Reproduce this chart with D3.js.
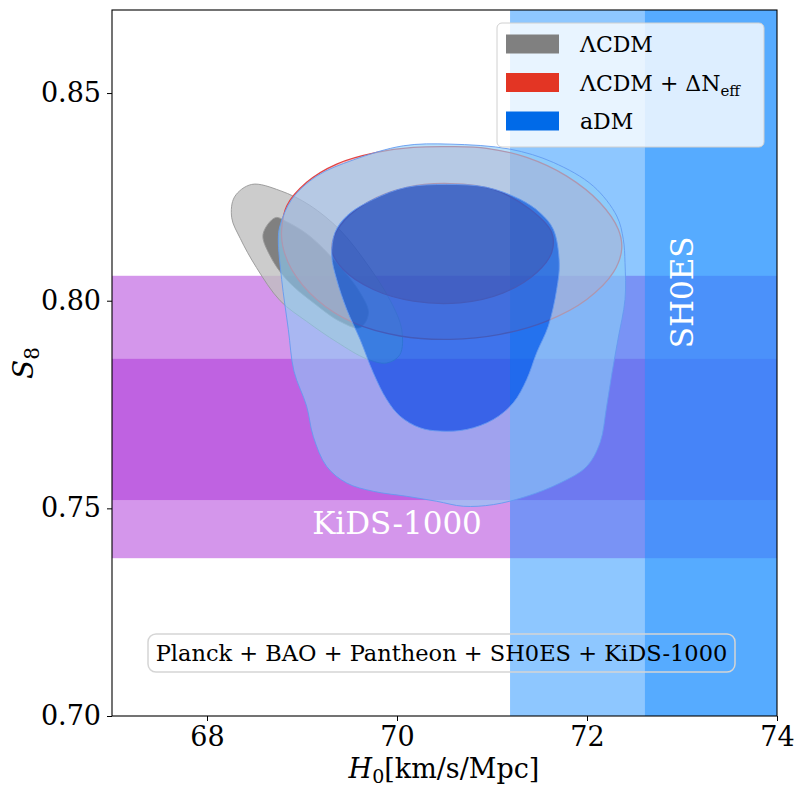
<!DOCTYPE html>
<html>
<head>
<meta charset="utf-8">
<script src="https://cdn.jsdelivr.net/npm/d3@7"></script>
<style>
  body { margin: 0; background: #fff; }
  svg { display: block; font-family: "DejaVu Serif", serif; }
</style>
</head>
<body>
<div id="chart-container"></div>
<script>
// axis ticks
const h0Ticks = [68, 70, 72, 74];
const h0Minor = [67.5, 68.5, 69, 69.5, 70.5, 71, 71.5, 72.5, 73, 73.5];
const s8Ticks = [0.7, 0.75, 0.8, 0.85];
const s8Minor = [0.725, 0.775, 0.825];

// SH0ES H0 = 74.03 +- 1.42, KiDS-1000 S8 = 0.766 +0.020 -0.014
const sh0es = { mean: 74.03, sigma: 1.42 };
const kidsBands = [[0.738, 0.806], [0.752, 0.786]];

// contour outlines, [H0, S8]
const lcdmOuter = [[68.47, 0.828], [68.29, 0.825], [68.26, 0.82], [68.35, 0.815], [68.52, 0.808],
  [68.77, 0.8], [69.05, 0.795], [69.37, 0.79], [69.68, 0.786], [69.89, 0.785], [70.03, 0.787],
  [70.05, 0.793], [69.93, 0.8], [69.68, 0.809], [69.4, 0.817], [69.08, 0.823], [68.77, 0.8265]];
const lcdmInner = [[68.72, 0.82], [68.59, 0.816], [68.66, 0.811], [68.84, 0.805], [69.12, 0.7995],
  [69.4, 0.795], [69.61, 0.7935], [69.7, 0.797], [69.61, 0.802], [69.37, 0.809], [69.08, 0.8156],
  [68.84, 0.819]];
const neffOuter = [[68.786, 0.8172], [68.839, 0.8228], [69.049, 0.8285], [69.365, 0.8329],
  [69.786, 0.8357], [70.172, 0.8369], [70.558, 0.8371], [70.944, 0.8367], [71.365, 0.8345],
  [71.786, 0.83], [72.137, 0.8236], [72.329, 0.8172], [72.365, 0.8124], [72.277, 0.8068],
  [71.997, 0.8003], [71.576, 0.7951], [71.084, 0.7919], [70.558, 0.7907], [70.032, 0.7915],
  [69.54, 0.7947], [69.155, 0.8003], [68.892, 0.8075], [68.797, 0.8132]];
const neffInner = [[69.313, 0.8124], [69.4, 0.818], [69.681, 0.8236], [70.102, 0.8273],
  [70.558, 0.8282], [71.014, 0.8268], [71.4, 0.822], [71.628, 0.8164], [71.628, 0.8116],
  [71.471, 0.8068], [71.119, 0.8019], [70.663, 0.7995], [70.172, 0.7999], [69.751, 0.8027],
  [69.435, 0.8075]];
const admOuter = [[68.768, 0.818], [68.751, 0.8148], [68.786, 0.8051], [68.856, 0.7931],
  [68.916, 0.783], [69.049, 0.7746], [69.119, 0.7673], [69.26, 0.7601], [69.471, 0.7561],
  [69.751, 0.7541], [70.102, 0.7529], [70.418, 0.7517], [70.698, 0.7505], [71.014, 0.7509],
  [71.365, 0.7529], [71.716, 0.7561], [71.997, 0.7601], [72.137, 0.7658], [72.207, 0.7746],
  [72.263, 0.7826], [72.326, 0.7907], [72.4, 0.8003], [72.4, 0.8092], [72.382, 0.8148],
  [72.313, 0.8204], [72.066, 0.8276], [71.645, 0.8333], [71.189, 0.8365], [70.558, 0.8377],
  [70.066, 0.8373], [69.54, 0.8339], [69.155, 0.83], [68.892, 0.8244]];
const admInner = [[69.347, 0.8164], [69.313, 0.8108], [69.365, 0.8051], [69.471, 0.7979],
  [69.611, 0.7907], [69.751, 0.7826], [69.892, 0.7762], [70.032, 0.7722], [70.242, 0.7694],
  [70.453, 0.7686], [70.734, 0.769], [71.014, 0.7714], [71.224, 0.7754], [71.365, 0.781],
  [71.471, 0.7875], [71.593, 0.7939], [71.681, 0.8027], [71.708, 0.8092], [71.645, 0.8172],
  [71.505, 0.8212], [71.295, 0.8244], [70.944, 0.8273], [70.523, 0.828], [70.102, 0.8273],
  [69.751, 0.8244], [69.471, 0.8204]];

const legendNames = ["ΛCDM", "ΛCDM + ΔN", "aDM"];
const legendColors = ["#808080", "#e33524", "#006ae8"];

const render = () => {
  const width = 795;
  const height = 791;
  const svg = d3.select("#chart-container").append("svg")
    .attr("width", width).attr("height", height);

  const x = d3.scaleLinear().domain([67, 74]).range([112, 777]);
  const y = d3.scaleLinear().domain([0.7, 0.87]).range([716, 10]);

  const plot = svg.append("g");

  // KiDS-1000 bands
  plot.selectAll("rect.kids")
    .data(kidsBands)
    .join("rect")
    .attr("class", "kids")
    .attr("x", x(67))
    .attr("width", x(74) - x(67))
    .attr("y", (d) => y(d[1]))
    .attr("height", (d) => y(d[0]) - y(d[1]))
    .style("fill", "rgb(169,45,215)")
    .style("fill-opacity", 0.5);

  // SH0ES bands (2 sigma then 1 sigma), clipped at 74
  plot.selectAll("rect.sh0es")
    .data([2, 1])
    .join("rect")
    .attr("class", "sh0es")
    .attr("x", (k) => x(sh0es.mean - k * sh0es.sigma))
    .attr("width", (k) => x(74) - x(sh0es.mean - k * sh0es.sigma))
    .attr("y", y(0.87))
    .attr("height", y(0.7) - y(0.87))
    .style("fill", "rgb(30,144,255)")
    .style("fill-opacity", 0.5);

  const line = d3.line()
    .x((d) => x(d[0]))
    .y((d) => y(d[1]))
    .curve(d3.curveCatmullRomClosed.alpha(0.5));

  const drawContours = (outer, inner, s) => {
    const g = plot.append("g");
    g.append("path")
      .attr("d", line(outer) + line(inner))
      .attr("fill-rule", "evenodd")
      .style("fill", s.outerFill)
      .style("fill-opacity", s.outerOpacity);
    g.append("path")
      .attr("d", line(inner))
      .style("fill", s.innerFill)
      .style("fill-opacity", s.innerOpacity);
    g.selectAll("path.edge")
      .data([outer, inner])
      .join("path")
      .attr("class", "edge")
      .attr("d", (d) => line(d))
      .style("fill", "none")
      .style("stroke", s.edge)
      .style("stroke-width", s.edgeWidth);
  };

  drawContours(lcdmOuter, lcdmInner, {
    outerFill: "rgb(191,191,191)", outerOpacity: 0.8,
    innerFill: "rgb(114,114,114)", innerOpacity: 0.9, edge: "rgb(150,150,150)", edgeWidth: 0.9,
  });
  drawContours(neffOuter, neffInner, {
    outerFill: "rgb(235,120,130)", outerOpacity: 0.45,
    innerFill: "rgb(227,53,36)", innerOpacity: 0.65, edge: "rgb(225,70,70)", edgeWidth: 1.3,
  });
  drawContours(admOuter, admInner, {
    outerFill: "rgb(140,205,247)", outerOpacity: 0.6,
    innerFill: "rgb(0,100,235)", innerOpacity: 0.7, edge: "rgb(100,155,240)", edgeWidth: 0.9,
  });

  // band labels
  svg.append("text")
    .attr("x", x(70))
    .attr("y", y(0.7438))
    .attr("text-anchor", "middle")
    .style("font-size", "31px")
    .style("fill", "#fff")
    .text("KiDS-1000");
  svg.append("text")
    .attr("transform", `translate(${x(73.0) + 11},${y(0.802)}) rotate(-90)`)
    .attr("text-anchor", "middle")
    .style("font-size", "31px")
    .style("fill", "#fff")
    .text("SH0ES");

  // data set box
  svg.append("rect")
    .attr("x", 148).attr("y", 634).attr("width", 587).attr("height", 38)
    .attr("rx", 8)
    .style("fill", "none")
    .style("stroke", "#d5d5d5")
    .style("stroke-width", 1.5);
  svg.append("text")
    .attr("x", 441.5).attr("y", 661)
    .attr("text-anchor", "middle")
    .style("font-size", "22.5px")
    .text("Planck + BAO + Pantheon + SH0ES + KiDS-1000");

  // axes
  const xAxis = svg.append("g").attr("transform", "translate(0,716)");
  xAxis.call(d3.axisBottom(x).tickValues(h0Minor).tickSize(3).tickFormat(""));
  xAxis.call(d3.axisBottom(x).tickValues(h0Ticks).tickSize(5).tickPadding(6).tickFormat(d3.format("d")));
  const yAxis = svg.append("g").attr("transform", "translate(112,0)");
  yAxis.call(d3.axisLeft(y).tickValues(s8Minor).tickSize(3).tickFormat(""));
  yAxis.call(d3.axisLeft(y).tickValues(s8Ticks).tickSize(5).tickPadding(6).tickFormat(d3.format(".2f")));
  svg.selectAll(".domain").remove();
  svg.selectAll(".tick text")
    .style("font-family", "DejaVu Serif")
    .style("font-size", "27px")
    .style("fill", "#000");
  svg.selectAll(".tick line").style("stroke", "#000");

  svg.append("rect")
    .attr("x", x(67)).attr("y", y(0.87))
    .attr("width", x(74) - x(67)).attr("height", y(0.7) - y(0.87))
    .style("fill", "none")
    .style("stroke", "#000")
    .style("stroke-width", 1.1);

  // axis titles
  const xt = svg.append("text")
    .attr("x", 444).attr("y", 778)
    .attr("text-anchor", "middle")
    .style("font-size", "27px");
  xt.append("tspan").style("font-style", "italic").text("H");
  xt.append("tspan").attr("dy", 5).style("font-size", "19px").text("0");
  xt.append("tspan").attr("dy", -5).text("[km/s/Mpc]");

  const yt = svg.append("text")
    .attr("transform", "translate(33,363) rotate(-90)")
    .attr("text-anchor", "middle")
    .style("font-size", "28px");
  yt.append("tspan").style("font-style", "italic").text("S");
  yt.append("tspan").attr("dy", 6).style("font-size", "20px").text("8");

  // legend
  const legend = svg.append("g").attr("transform", "translate(497,23)");
  legend.append("rect")
    .attr("width", 267).attr("height", 124).attr("rx", 5)
    .style("fill", "#fff").style("fill-opacity", 0.8)
    .style("stroke", "#d0d0d0");
  const items = legend.selectAll("g.item")
    .data(legendNames)
    .join("g")
    .attr("class", "item")
    .attr("transform", (d, i) => `translate(9,${21 + i * 38.5})`);
  items.append("rect")
    .attr("y", -9.5).attr("width", 53).attr("height", 19)
    .style("fill", (d, i) => legendColors[i]);
  const labels = items.append("text")
    .attr("x", 74).attr("y", 8)
    .style("font-size", "22px");
  labels.append("tspan").text((d) => d);
  labels.filter((d, i) => i === 1)
    .append("tspan").attr("dy", 5).style("font-size", "15px").text("eff");
};

render();
</script>
</body>
</html>
